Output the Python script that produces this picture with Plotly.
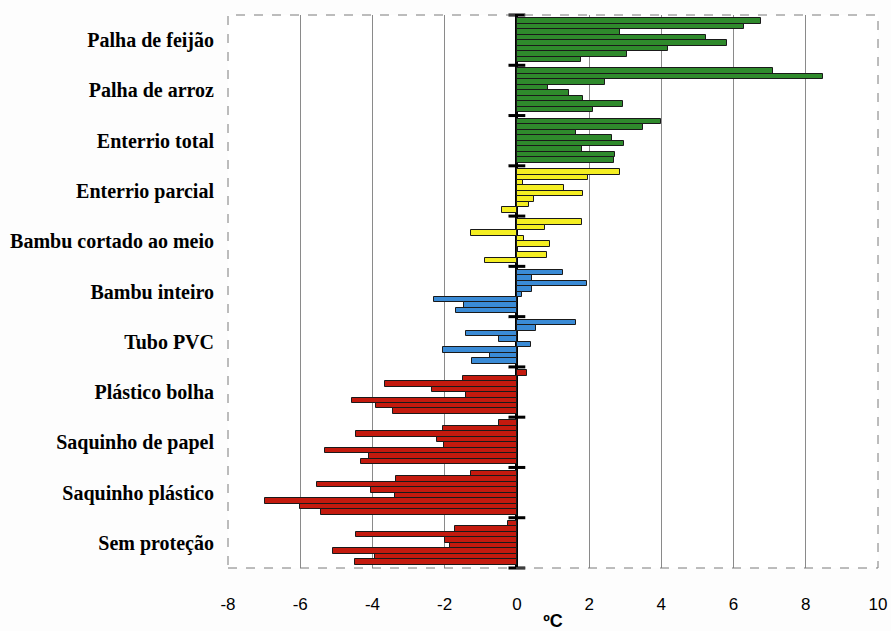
import plotly.graph_objects as go

# Temperature difference (ºC) per protection treatment, eight readings each
categorias = [
    "Palha de feijão", "Palha de arroz", "Enterrio total", "Enterrio parcial",
    "Bambu cortado ao meio", "Bambu inteiro", "Tubo PVC", "Plástico bolha",
    "Saquinho de papel", "Saquinho plástico", "Sem proteção",
]
palha_feijao = [6.76, 6.29, 2.85, 5.23, 5.82, 4.18, 3.05, 1.77]
palha_arroz = [7.10, 8.48, 2.44, 0.87, 1.44, 1.82, 2.94, 2.11]
enterrio_total = [3.99, 3.48, 1.63, 2.64, 2.96, 1.81, 2.73, 2.69]
enterrio_parcial = [2.85, 1.97, 0.16, 1.31, 1.84, 0.47, 0.33, -0.42]
bambu_cortado = [1.80, 0.78, -1.28, 0.19, 0.91, 0.03, 0.84, -0.89]
bambu_inteiro = [1.28, 0.41, 1.95, 0.43, 0.15, -2.29, -1.47, -1.69]
tubo_pvc = [1.63, 0.52, -1.42, -0.50, 0.39, -2.06, -0.75, -1.25]
plastico_bolha = [0.27, -1.49, -3.66, -2.36, -1.40, -4.57, -3.89, -3.43]
saquinho_papel = [-0.49, -2.04, -4.46, -2.22, -2.02, -5.32, -4.10, -4.32]
saquinho_plastico = [-1.28, -3.35, -5.54, -4.04, -3.38, -6.98, -6.01, -5.43]
sem_protecao = [-0.25, -1.72, -4.46, -2.00, -1.85, -5.10, -3.93, -4.49]

series = [palha_feijao, palha_arroz, enterrio_total, enterrio_parcial,
          bambu_cortado, bambu_inteiro, tubo_pvc, plastico_bolha,
          saquinho_papel, saquinho_plastico, sem_protecao]

VERDE, AMARELO, AZUL, VERMELHO = "#2f8a2c", "#f4ee22", "#3a8bd6", "#c41a0e"
cores = [VERDE] * 3 + [AMARELO] * 2 + [AZUL] * 2 + [VERMELHO] * 4

x_ticks = list(range(-8, 11, 2))

n_leituras = 8
passo = 0.109  # bar slot as a fraction of one category band

fig = go.Figure()
for i, (valores, cor) in enumerate(zip(series, cores)):
    ys = [i + (j - (n_leituras - 1) / 2) * passo for j in range(n_leituras)]
    fig.add_trace(go.Bar(
        x=valores, y=ys, orientation="h", width=passo,
        marker=dict(color=cor, line=dict(color="#1a1a1a", width=1)),
        showlegend=False, hoverinfo="x",
    ))

# Short dividers on the zero line between treatments
limites = [i - 0.5 for i in range(len(categorias) + 1)]
fig.add_trace(go.Scatter(
    x=[0] * len(limites), y=limites, mode="markers",
    marker=dict(symbol="line-ew", size=12, line=dict(color="black", width=3)),
    showlegend=False, hoverinfo="skip", cliponaxis=False,
))

fig.update_layout(
    width=891, height=631,
    margin=dict(l=228, r=13, t=15, b=63),
    paper_bgcolor="#fdfdfd", plot_bgcolor="#ffffff",
    bargap=0, barmode="overlay",
    xaxis=dict(
        range=[-8, 10], tickvals=x_ticks, ticktext=[str(v) for v in x_ticks],
        automargin=False,
        showgrid=True, gridcolor="#8a8a8a", gridwidth=1,
        zeroline=True, zerolinecolor="black", zerolinewidth=3,
        showline=False, ticks="", ticklabelstandoff=24,
        tickfont=dict(family="Liberation Sans, Arial", size=17, color="black"),
        title=dict(text="<b>ºC</b>", standoff=2,
                   font=dict(family="Liberation Sans, Arial", size=18, color="black")),
    ),
    yaxis=dict(
        range=[len(categorias) - 0.5, -0.5],
        tickvals=list(range(len(categorias))),
        ticktext=[f"<b>{c}</b>" for c in categorias],
        automargin=False,
        showgrid=False, zeroline=False, showline=False, ticks="",
        ticklabelstandoff=13,
        tickfont=dict(family="Liberation Serif, Times New Roman", size=20, color="black"),
    ),
    shapes=[dict(type="rect", xref="paper", yref="paper", x0=0, x1=1, y0=0, y1=1,
                 line=dict(color="#7a7a7a", width=1, dash="dash"), layer="above")],
)

fig.write_html("out.html")
